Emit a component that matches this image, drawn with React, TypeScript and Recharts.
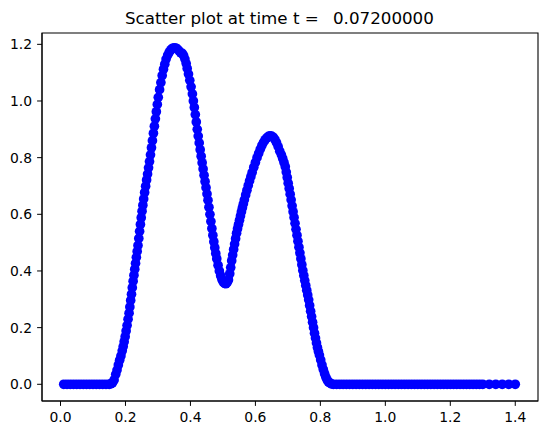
import { ScatterChart, Scatter, XAxis, YAxis, ReferenceArea } from 'recharts';

// particle positions, left to right
const leftBaseline: [number, number][] = [
  [0.01, 0], [0.02, 0], [0.03, 0], [0.04, 0], [0.05, 0], [0.06, 0], [0.07, 0], [0.08, 0],
  [0.09, 0], [0.1, 0], [0.11, 0], [0.12, 0], [0.13, 0], [0.14, 0], [0.15, 0], [0.155, 0.002],
];

const firstPeak: [number, number][] = [
  [0.16, 0.005], [0.165, 0.015], [0.17, 0.035], [0.174, 0.05], [0.178, 0.068], [0.182, 0.085],
  [0.186, 0.1], [0.19, 0.118], [0.193, 0.133], [0.196, 0.15], [0.199, 0.168], [0.202, 0.188],
  [0.205, 0.208], [0.208, 0.23], [0.211, 0.251], [0.2135, 0.273], [0.216, 0.296], [0.2185, 0.318],
  [0.221, 0.341], [0.2235, 0.364], [0.226, 0.385], [0.2285, 0.406], [0.231, 0.427], [0.2335, 0.448],
  [0.236, 0.469], [0.2385, 0.49], [0.241, 0.515], [0.2435, 0.54], [0.246, 0.564], [0.2485, 0.588],
  [0.251, 0.611], [0.2535, 0.632], [0.256, 0.654], [0.259, 0.677], [0.262, 0.699], [0.265, 0.721],
  [0.268, 0.742], [0.271, 0.764], [0.274, 0.786], [0.277, 0.81], [0.28, 0.835], [0.283, 0.86],
  [0.286, 0.886], [0.289, 0.911], [0.292, 0.937], [0.295, 0.962], [0.298, 0.988], [0.301, 1.013],
  [0.305, 1.04], [0.309, 1.065], [0.313, 1.09], [0.317, 1.112], [0.321, 1.13], [0.325, 1.148],
  [0.33, 1.162], [0.335, 1.173], [0.34, 1.181], [0.345, 1.186], [0.35, 1.188], [0.355, 1.187],
  [0.36, 1.183], [0.365, 1.177], [0.37, 1.17], [0.375, 1.168], [0.379, 1.16], [0.383, 1.148],
  [0.387, 1.132], [0.39, 1.115], [0.394, 1.095], [0.398, 1.073], [0.402, 1.05], [0.406, 1.025],
  [0.409, 1.0], [0.412, 0.977], [0.415, 0.952], [0.418, 0.926], [0.421, 0.9], [0.424, 0.876],
  [0.427, 0.852], [0.43, 0.828], [0.433, 0.805], [0.436, 0.782], [0.439, 0.76], [0.442, 0.738],
  [0.445, 0.716], [0.448, 0.694], [0.451, 0.672], [0.454, 0.65], [0.457, 0.625], [0.46, 0.6],
  [0.463, 0.575], [0.466, 0.55], [0.469, 0.526], [0.472, 0.503], [0.475, 0.482], [0.478, 0.462],
  [0.481, 0.443], [0.485, 0.42], [0.489, 0.4], [0.493, 0.383], [0.497, 0.37], [0.501, 0.361],
  [0.505, 0.356], [0.509, 0.355],
];

const secondPeak: [number, number][] = [
  [0.513, 0.359], [0.517, 0.368], [0.521, 0.39], [0.524, 0.412], [0.527, 0.436], [0.53, 0.456],
  [0.533, 0.476], [0.536, 0.495], [0.539, 0.514], [0.542, 0.533], [0.545, 0.549], [0.548, 0.564],
  [0.551, 0.579], [0.554, 0.594], [0.557, 0.609], [0.56, 0.623], [0.563, 0.637], [0.566, 0.651],
  [0.57, 0.668], [0.574, 0.685], [0.578, 0.702], [0.582, 0.718], [0.586, 0.733], [0.59, 0.748],
  [0.595, 0.766], [0.6, 0.783], [0.605, 0.8], [0.61, 0.815], [0.615, 0.83], [0.62, 0.843],
  [0.625, 0.854], [0.63, 0.863], [0.635, 0.87], [0.64, 0.875], [0.645, 0.877], [0.65, 0.876],
  [0.655, 0.872], [0.66, 0.864], [0.665, 0.853], [0.67, 0.839], [0.675, 0.823], [0.68, 0.81],
  [0.684, 0.797], [0.688, 0.783], [0.692, 0.768], [0.695, 0.749], [0.698, 0.73], [0.701, 0.71],
  [0.704, 0.691], [0.707, 0.671], [0.71, 0.651], [0.713, 0.63], [0.716, 0.609], [0.719, 0.589],
  [0.722, 0.568], [0.725, 0.547], [0.728, 0.526], [0.731, 0.505], [0.734, 0.484], [0.737, 0.464],
  [0.74, 0.443], [0.743, 0.422], [0.746, 0.402], [0.749, 0.384], [0.752, 0.366], [0.755, 0.349],
  [0.758, 0.332], [0.761, 0.315], [0.764, 0.298], [0.767, 0.278], [0.77, 0.258], [0.773, 0.239],
  [0.776, 0.219], [0.779, 0.2], [0.782, 0.18], [0.785, 0.163], [0.788, 0.146], [0.791, 0.13],
  [0.794, 0.116], [0.797, 0.103], [0.801, 0.086], [0.805, 0.068], [0.809, 0.052], [0.813, 0.037],
  [0.817, 0.025], [0.821, 0.015], [0.825, 0.008], [0.83, 0.004], [0.835, 0.001],
];

const rightBaseline: [number, number][] = [
  [0.84, 0], [0.85, 0], [0.86, 0], [0.87, 0], [0.88, 0], [0.89, 0], [0.9, 0], [0.91, 0],
  [0.92, 0], [0.93, 0], [0.94, 0], [0.95, 0], [0.96, 0], [0.97, 0], [0.98, 0], [0.99, 0],
  [1.0, 0], [1.01, 0], [1.02, 0], [1.03, 0], [1.04, 0], [1.05, 0], [1.06, 0], [1.07, 0],
  [1.08, 0], [1.09, 0], [1.1, 0], [1.11, 0], [1.12, 0], [1.13, 0], [1.14, 0], [1.15, 0],
  [1.16, 0], [1.17, 0], [1.18, 0], [1.19, 0], [1.2, 0], [1.21, 0], [1.22, 0], [1.23, 0],
  [1.24, 0], [1.25, 0], [1.26, 0], [1.27, 0], [1.28, 0], [1.29, 0], [1.3, 0], [1.32, 0],
  [1.34, 0], [1.36, 0], [1.38, 0], [1.4, 0],
];

const xTicks = [0, 0.2, 0.4, 0.6, 0.8, 1.0, 1.2, 1.4];
const yTicks = [0, 0.2, 0.4, 0.6, 0.8, 1.0, 1.2];
const xDomain: [number, number] = [-0.057, 1.47];
const yDomain: [number, number] = [-0.059, 1.24];

const font = 'DejaVu Sans, sans-serif';

export default function App() {
  const points = [...leftBaseline, ...firstPeak, ...secondPeak, ...rightBaseline].map(([x, y]) => ({ x, y }));
  const tickStyle = { fontSize: 13.9, fontFamily: font, fill: '#000' };

  return (
    <div style={{ position: 'absolute', left: 0, top: 0, width: 547, height: 435, background: '#fff' }}>
      <svg width={547} height={32} style={{ position: 'absolute', left: 0, top: 0 }}>
        <text y={24} fontSize={16.7} fontFamily={font} fill="#000">
          <tspan x={125}>Scatter plot at time t =</tspan>
          <tspan x={333}>0.07200000</tspan>
        </text>
      </svg>
      <ScatterChart width={547} height={435} margin={{ top: 33, right: 9, bottom: 0, left: 0 }}>
        <XAxis
          type="number"
          dataKey="x"
          domain={xDomain}
          ticks={xTicks}
          tickFormatter={(v: number) => v.toFixed(1)}
          height={34}
          tick={tickStyle}
          tickSize={4.9}
          tickMargin={6}
          stroke="#000"
          interval={0}
        />
        <YAxis
          type="number"
          dataKey="y"
          domain={yDomain}
          ticks={yTicks}
          tickFormatter={(v: number) => v.toFixed(1)}
          width={42}
          tick={tickStyle}
          tickSize={4.9}
          tickMargin={5}
          stroke="#000"
          interval={0}
        />
        <Scatter
          data={points}
          isAnimationActive={false}
          shape={(p: any) => <circle cx={p.cx} cy={p.cy} r={4.85} fill="#0000ff" />}
        />
        {/* frame around the axes, like the matplotlib spines */}
        <ReferenceArea
          x1={xDomain[0]}
          x2={xDomain[1]}
          y1={yDomain[0]}
          y2={yDomain[1]}
          fill="none"
          fillOpacity={0}
          stroke="#000"
          strokeWidth={1.1}
          strokeOpacity={1}
          ifOverflow="visible"
        />
      </ScatterChart>
    </div>
  );
}
